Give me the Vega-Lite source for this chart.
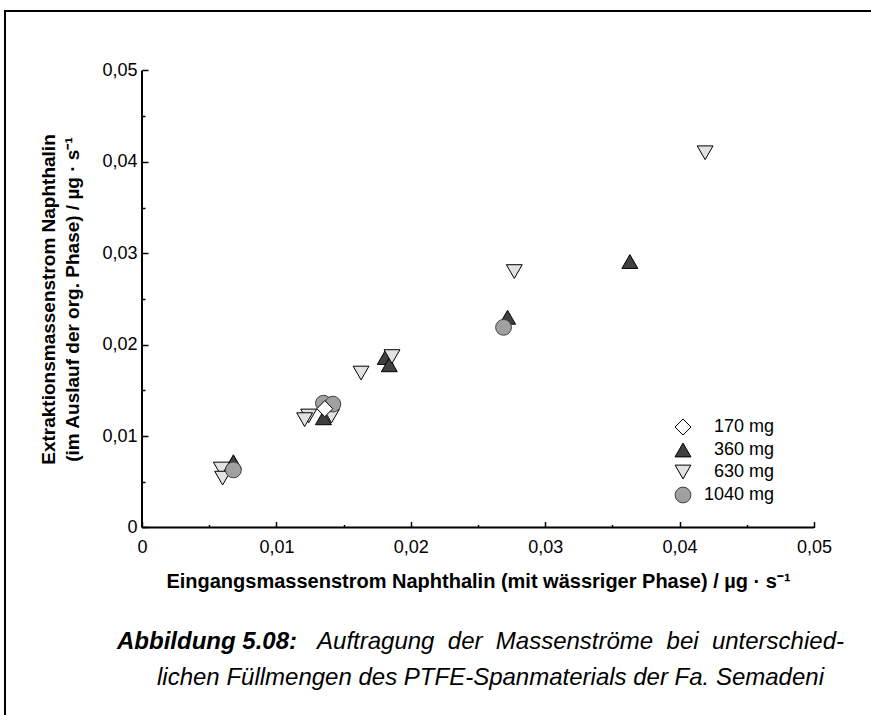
{
  "$schema": "https://vega.github.io/schema/vega-lite/v6.json",
  "width": 880,
  "height": 720,
  "autosize": {"type": "none"},
  "padding": {"left": 5, "top": 11, "right": 0, "bottom": 0},
  "background": "white",
  "config": {
    "font": "Liberation Sans",
    "view": {"stroke": "black", "strokeWidth": 2, "fill": "white"}
  },
  "title": {
    "text": "Abbildung 5.08:",
    "subtitle": [
      "\u200b\u00a0\u00a0\u00a0\u00a0\u00a0\u00a0\u00a0\u00a0\u00a0\u00a0\u00a0\u00a0\u00a0\u00a0\u00a0\u00a0\u00a0\u00a0\u00a0\u00a0\u00a0\u00a0\u00a0\u00a0\u00a0\u00a0\u00a0\u00a0\u00a0\u00a0Auftragung\u00a0 der\u00a0 Massenströme\u00a0 bei\u00a0 unterschied-",
      "\u200b\u00a0\u00a0\u00a0\u00a0\u00a0\u00a0lichen Füllmengen des PTFE-Spanmaterials der Fa. Semadeni"
    ],
    "orient": "bottom",
    "frame": "group",
    "anchor": "start",
    "offset": -101,
    "dx": 112,
    "font": "Liberation Sans",
    "fontSize": 24,
    "fontStyle": "italic",
    "fontWeight": "bold",
    "color": "black",
    "subtitleFont": "Liberation Sans",
    "subtitleFontSize": 24,
    "subtitleFontStyle": "italic",
    "subtitleFontWeight": "normal",
    "subtitleColor": "black",
    "subtitlePadding": -24,
    "subtitleLineHeight": 36
  },
  "datasets": {
    "points": [
      {"input": 0.0068, "output": 0.0072, "group": "360 mg"},
      {"input": 0.0135, "output": 0.0120, "group": "360 mg"},
      {"input": 0.0181, "output": 0.0186, "group": "360 mg"},
      {"input": 0.0184, "output": 0.0178, "group": "360 mg"},
      {"input": 0.0272, "output": 0.0230, "group": "360 mg"},
      {"input": 0.0363, "output": 0.0291, "group": "360 mg"},
      {"input": 0.0059, "output": 0.0064, "group": "630 mg"},
      {"input": 0.0060, "output": 0.0054, "group": "630 mg"},
      {"input": 0.0124, "output": 0.0122, "group": "630 mg"},
      {"input": 0.0121, "output": 0.0118, "group": "630 mg"},
      {"input": 0.0141, "output": 0.0122, "group": "630 mg"},
      {"input": 0.0163, "output": 0.0169, "group": "630 mg"},
      {"input": 0.0186, "output": 0.0187, "group": "630 mg"},
      {"input": 0.0277, "output": 0.0280, "group": "630 mg"},
      {"input": 0.0419, "output": 0.0410, "group": "630 mg"},
      {"input": 0.0068, "output": 0.0063, "group": "1040 mg"},
      {"input": 0.0135, "output": 0.0136, "group": "1040 mg"},
      {"input": 0.0142, "output": 0.0135, "group": "1040 mg"},
      {"input": 0.0269, "output": 0.0219, "group": "1040 mg"},
      {"input": 0.0136, "output": 0.0130, "group": "170 mg"}
    ]
  },
  "layer": [
    {
      "data": {"name": "points"},
      "mark": {"type": "point", "filled": true, "strokeWidth": 1, "opacity": 1},
      "encoding": {
        "x": {
          "field": "input",
          "type": "quantitative",
          "scale": {"domain": [-0.0101935, 0.0552827], "nice": false, "zero": false},
          "axis": {
            "values": [0, 0.005, 0.01, 0.015, 0.02, 0.025, 0.03, 0.035, 0.04, 0.045, 0.05],
            "domain": false,
            "grid": false,
            "offset": -203.5,
            "tickSize": {"condition": {"test": "round(datum.value*1000) % 10 == 0", "value": -6}, "value": -3},
            "tickColor": "black",
            "tickWidth": 1.5,
            "labelExpr": "round(datum.value*1000) % 10 == 0 ? replace(format(datum.value, '.2~f'), '.', ',') : ''",
            "labelFont": "Liberation Sans",
            "labelFontSize": 18,
            "labelColor": "black",
            "labelPadding": 17,
            "labelFlush": false,
            "labelOverlap": false,
            "title": "Eingangsmassenstrom Naphthalin (mit wässriger Phase) / µg · s⁻¹",
            "titleFont": "Liberation Sans",
            "titleFontSize": 20,
            "titleFontWeight": "bold",
            "titleColor": "black",
            "titlePadding": 12,
            "titleX": 473
          }
        },
        "y": {
          "field": "output",
          "type": "quantitative",
          "scale": {"domain": [-0.0222648, 0.0565098], "nice": false, "zero": false},
          "axis": {
            "values": [0, 0.005, 0.01, 0.015, 0.02, 0.025, 0.03, 0.035, 0.04, 0.045, 0.05],
            "domain": false,
            "grid": false,
            "offset": -137,
            "tickSize": {"condition": {"test": "round(datum.value*1000) % 10 == 0", "value": -6}, "value": -3},
            "tickColor": "black",
            "tickWidth": 1.5,
            "labelExpr": "round(datum.value*1000) % 10 == 0 ? replace(format(datum.value, '.2~f'), '.', ',') : ''",
            "labelFont": "Liberation Sans",
            "labelFontSize": 18,
            "labelColor": "black",
            "labelPadding": 11,
            "labelFlush": false,
            "labelOverlap": false,
            "title": ["Extraktionsmassenstrom Naphthalin", "(im Auslauf der org. Phase) / µg · s⁻¹"],
            "titleFont": "Liberation Sans",
            "titleFontSize": 19,
            "titleFontWeight": "bold",
            "titleColor": "black",
            "titleLineHeight": 24,
            "titlePadding": 19,
            "titleY": 288
          }
        },
        "shape": {
          "field": "group",
          "type": "nominal",
          "scale": {"domain": ["170 mg", "360 mg", "630 mg", "1040 mg"], "range": ["diamond", "triangle-up", "triangle-down", "circle"]},
          "legend": {
            "orient": "none",
            "legendX": 669,
            "legendY": 407,
            "title": null,
            "labelFont": "Liberation Sans",
            "labelFontSize": 18,
            "labelColor": "black",
            "labelOffset": 12,
            "rowPadding": 4,
            "symbolStrokeWidth": 1,
            "labelExpr": "datum.label == '1040 mg' ? datum.label : '\u200b\u2007' + datum.label"
          }
        },
        "fill": {
          "field": "group",
          "type": "nominal",
          "scale": {"domain": ["170 mg", "360 mg", "630 mg", "1040 mg"], "range": ["#ffffff", "#404040", "#e2e2e2", "#a0a0a0"]}
        },
        "stroke": {
          "field": "group",
          "type": "nominal",
          "scale": {"domain": ["170 mg", "360 mg", "630 mg", "1040 mg"], "range": ["#000000", "#000000", "#000000", "#404040"]}
        },
        "size": {
          "field": "group",
          "type": "nominal",
          "scale": {"domain": ["170 mg", "360 mg", "630 mg", "1040 mg"], "range": [256, 250, 250, 180]}
        }
      }
    },
    {
      "data": {"values": [{}]},
      "mark": {"type": "rule", "stroke": "black", "strokeWidth": 2},
      "encoding": {
        "x": {"datum": 0, "type": "quantitative"},
        "x2": {"datum": 0.05},
        "y": {"datum": 0, "type": "quantitative"}
      }
    },
    {
      "data": {"values": [{}]},
      "mark": {"type": "rule", "stroke": "black", "strokeWidth": 2},
      "encoding": {
        "x": {"datum": 0, "type": "quantitative"},
        "y": {"datum": 0, "type": "quantitative"},
        "y2": {"datum": 0.05}
      }
    }
  ]
}
